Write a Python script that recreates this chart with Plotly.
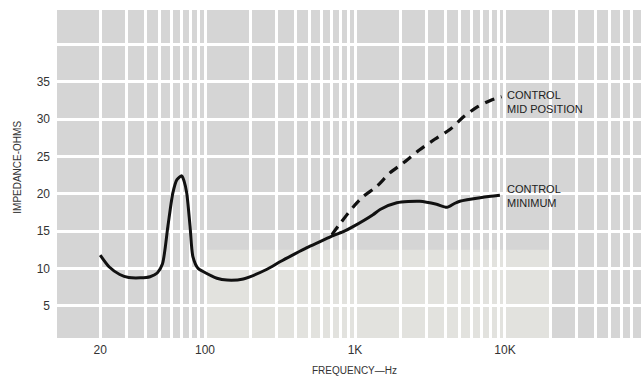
import plotly.graph_objects as go
import math

# ---- data ----
freq_min = [20, 23, 27, 31, 37, 43, 48, 52, 56.5, 61, 65, 70, 72.5, 75.5, 79.5, 83, 90, 97,
            120, 140, 180, 259, 316, 400, 478, 585, 714, 850, 970, 1318, 1470, 1900, 2700,
            3500, 4100, 4600, 5000, 7000, 9250]
imp_min = [11.8, 10.2, 9.2, 8.8, 8.75, 8.9, 9.4, 10.6, 15.6, 20.1, 21.9, 22.4, 21.7, 20.1, 15.6,
           11.6, 10.0, 9.6, 8.7, 8.45, 8.6, 9.9, 10.9, 12.0, 12.8, 13.6, 14.4, 15.0, 15.6,
           17.2, 17.9, 18.8, 19.0, 18.6, 18.2, 18.7, 19.0, 19.5, 19.8]

freq_mid = [700, 794, 970, 1130, 1400, 1710, 2090, 2700, 3400, 4290, 5300, 6500, 8000, 9500]
imp_mid = [14.5, 16.0, 18.2, 19.6, 21.0, 22.8, 24.1, 25.9, 27.3, 28.6, 30.3, 31.6, 32.5, 33.0]

x_grid = [20, 30, 40, 50, 60, 70, 80, 90,
          100, 200, 300, 400, 500, 600, 700, 800, 900,
          1000, 2000, 3000, 4000, 5000, 6000, 7000, 8000, 9000,
          10000, 20000, 30000, 40000, 50000, 60000, 70000, 80000]
x_labels = {20: "20", 100: "100", 1000: "1K", 10000: "10K"}
y_grid = [5, 10, 15, 20, 25, 30, 35, 40]
y_labels = {5: "5", 10: "10", 15: "15", 20: "20", 25: "25", 30: "30", 35: "35"}

label_mid = "CONTROL<br>MID POSITION"
label_min = "CONTROL<br>MINIMUM"

FONT = "Liberation Sans, Arial, Helvetica, sans-serif"
X_RANGE = [1.013, 4.907]


def x_frac(f):
    return (math.log10(f) - X_RANGE[0]) / (X_RANGE[1] - X_RANGE[0])


fig = go.Figure()
fig.add_trace(go.Scatter(x=freq_min, y=imp_min, mode="lines",
                         line=dict(color="#111111", width=3, shape="spline", smoothing=0.7),
                         showlegend=False, hoverinfo="skip"))
fig.add_trace(go.Scatter(x=freq_mid, y=imp_mid, mode="lines",
                         line=dict(color="#111111", width=3.2, dash="10px,7px",
                                   shape="spline", smoothing=0.7),
                         showlegend=False, hoverinfo="skip"))

# grey chart paper, drawn beneath the white grid
fig.add_shape(type="rect", xref="x domain", yref="y domain", x0=0, x1=1, y0=0, y1=1,
              fillcolor="#d5d5d5", line_width=0, layer="below")
# lighter, faded lower band of the scanned paper
fig.add_shape(type="rect", xref="x domain", yref="y", x0=x_frac(100), x1=x_frac(20000),
              y0=0.7, y1=12.5, fillcolor="#e2e2de", line_width=0, layer="below")

fig.add_annotation(text=label_mid, xref="paper", yref="paper", x=0.767, y=0.718,
                   xanchor="left", yanchor="middle", showarrow=False, align="left",
                   font=dict(family=FONT, size=11, color="#222222"))
fig.add_annotation(text=label_min, xref="paper", yref="paper", x=0.767, y=0.433,
                   xanchor="left", yanchor="middle", showarrow=False, align="left",
                   font=dict(family=FONT, size=11, color="#222222"))
fig.add_annotation(text="IMPEDANCE-OHMS", xref="paper", yref="paper", x=-0.068, y=0.52,
                   xanchor="center", yanchor="middle", textangle=-90, showarrow=False,
                   font=dict(family=FONT, size=10, color="#333333"))
fig.add_annotation(text="FREQUENCY\u2014Hz", xref="paper", yref="paper", x=0.51, y=-0.098,
                   xanchor="center", yanchor="middle", showarrow=False,
                   font=dict(family=FONT, size=10, color="#333333"))

fig.update_layout(
    width=641, height=379,
    margin=dict(l=57, r=0, t=10, b=41),
    paper_bgcolor="white", plot_bgcolor="rgba(0,0,0,0)",
    font=dict(family=FONT, size=12, color="#333333"),
    showlegend=False,
)
fig.update_xaxes(type="log", range=X_RANGE,
                 tickmode="array", tickvals=x_grid,
                 ticktext=[x_labels.get(v, "") for v in x_grid],
                 showgrid=True, gridcolor="white", gridwidth=2.5,
                 showline=False, zeroline=False, ticks="", ticklabelstandoff=3)
fig.update_yaxes(range=[0.7, 44.6],
                 tickmode="array", tickvals=y_grid,
                 ticktext=[y_labels.get(v, "") for v in y_grid],
                 showgrid=True, gridcolor="white", gridwidth=2.5,
                 showline=False, zeroline=False, ticks="", ticklabelstandoff=6)

fig.write_html("out.html", config={"displayModeBar": False},
               post_script="document.body.style.margin='0';document.body.style.overflow='hidden';")
